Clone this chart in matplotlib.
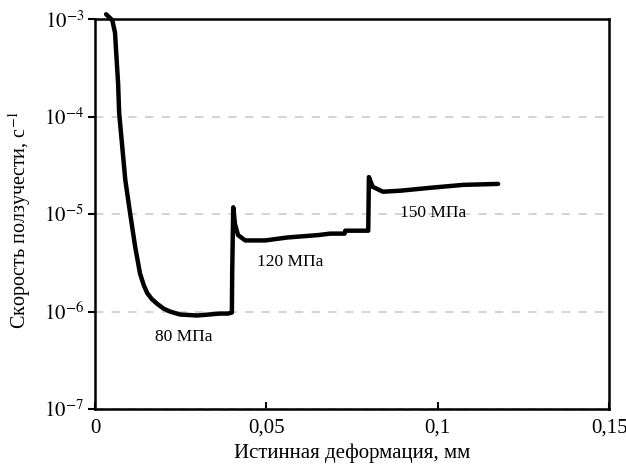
import numpy as np
import matplotlib
matplotlib.use('Agg')
import matplotlib.pyplot as plt

plt.rcParams['font.family'] = ['Liberation Serif', 'DejaVu Serif']
plt.rcParams['mathtext.fontset'] = 'stix'

# истинная деформация и скорость ползучести
strain = [0.0032, 0.0050, 0.0058, 0.0061, 0.0064, 0.0067, 0.0070, 0.0088, 0.0102,
          0.0117, 0.0131, 0.0142, 0.0152, 0.0165, 0.0181, 0.0200, 0.0219, 0.0248,
          0.0298, 0.0365, 0.0388, 0.0399, 0.0400, 0.0403, 0.0408, 0.0417, 0.0438,
          0.0496, 0.0560, 0.0651, 0.0686, 0.0728, 0.0730, 0.0788, 0.0797, 0.0799,
          0.0810, 0.0840, 0.0890, 0.0978, 0.1074, 0.1176]
log_rate = [-2.95, -3.01, -3.14, -3.32, -3.49, -3.66, -3.96, -4.65, -4.99,
            -5.34, -5.61, -5.73, -5.81, -5.87, -5.92, -5.97, -6.00, -6.03,
            -6.04, -6.02, -6.02, -6.01, -5.60, -4.93, -5.10, -5.215, -5.27,
            -5.27, -5.24, -5.215, -5.20, -5.20, -5.17, -5.17, -5.17, -4.62,
            -4.72, -4.77, -4.76, -4.73, -4.70, -4.69]
rate = 10.0 ** np.array(log_rate)

labels = ['80 МПа', '120 МПа', '150 МПа']
label_x = [0.026, 0.0569, 0.0986]
label_y = [5.5e-7, 3.2e-6, 1.02e-5]

fig = plt.figure(figsize=(6.26, 4.67), dpi=100)
ax = fig.add_axes([0.152, 0.124, 0.821, 0.835])

ax.plot(strain, rate, color='black', lw=3.2, solid_capstyle='round',
        solid_joinstyle='round', clip_on=False, zorder=3)

ax.set_yscale('log')
ax.set_xlim(0, 0.15)
ax.set_ylim(1e-7, 1e-3)
ax.set_xticks([0, 0.05, 0.1, 0.15])
ax.set_xticklabels(['0', '0,05', '0,1', '0,15'])
ax.set_yticks([1e-7, 1e-6, 1e-5, 1e-4, 1e-3])
ax.set_yticklabels([r'$10^{-7}$', r'$10^{-6}$', r'$10^{-5}$', r'$10^{-4}$', r'$10^{-3}$'])
ax.yaxis.set_minor_locator(matplotlib.ticker.NullLocator())

ax.tick_params(axis='x', direction='in', length=5, width=1.5, labelsize=15, pad=7)
ax.tick_params(axis='y', direction='out', length=5, width=1.5, labelsize=15, pad=3)
ax.tick_params(top=False, right=False)
for s in ax.spines.values():
    s.set_linewidth(1.8)

ax.grid(axis='y', linestyle=(0, (5, 5)), color='#cccccc', lw=1.2)

for t, x, y in zip(labels, label_x, label_y):
    ax.text(x, y, t, ha='center', va='center', fontsize=12.5)

ax.set_xlabel('Истинная деформация, мм', fontsize=15, labelpad=4)
ax.set_ylabel('Скорость ползучести, с$^{-1}$', fontsize=14.5)
ax.yaxis.set_label_coords(-0.12, 0.485)

fig.savefig('out.png', dpi=100)
